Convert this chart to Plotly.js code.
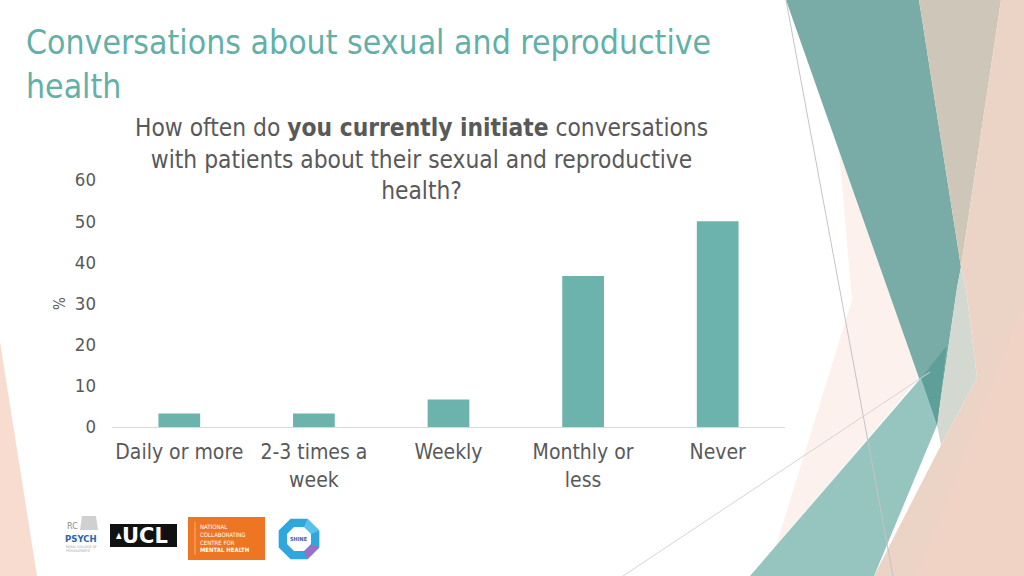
<!DOCTYPE html>
<html>
<head>
<meta charset="utf-8">
<script src="https://cdn.plot.ly/plotly-3.0.1.min.js"></script>
<style>
html,body{margin:0;padding:0;background:#fff;}
#chart{width:1024px;height:576px;}
</style>
</head>
<body>
<div id="chart"></div>
<script>
// ---- data ----
const categories = ['Daily or more', '2-3 times a<br>week', 'Weekly', 'Monthly or<br>less', 'Never'];
const percentages = [3.3, 3.3, 6.7, 36.7, 50];
const yTickValues = [0, 10, 20, 30, 40, 50, 60];
const yTickLabels = ['0', '10', '20', '30', '40', '50', '60'];
const slideTitle = 'Conversations about sexual and reproductive<br>health';
const chartTitle = 'How often do <b>you currently initiate</b> conversations<br>with patients about their sexual and reproductive<br>health?';
const yAxisTitle = '%';

// ---- layout helpers (pixel -> paper) ----
const FONT = 'DejaVu Sans Condensed, DejaVu Sans, sans-serif';
const L = 112, R = 785, T = 180, B = 427;
const px = x => (x - L) / (R - L);
const py = y => (B - y) / (B - T);
function poly(pts, fill, extra) {
  const d = pts.map((p, i) => (i ? 'L' : 'M') + px(p[0]).toFixed(5) + ',' + py(p[1]).toFixed(5)).join(' ') + ' Z';
  return Object.assign({type: 'path', xref: 'paper', yref: 'paper', path: d, fillcolor: fill, line: {width: 0}, layer: 'below'}, extra || {});
}
function seg(a, b, color, w) {
  return {type: 'line', xref: 'paper', yref: 'paper', x0: px(a[0]), y0: py(a[1]), x1: px(b[0]), y1: py(b[1]),
    line: {color: color, width: w || 1}, layer: 'below'};
}
function rect(x0, y0, x1, y1, fill) {
  return {type: 'rect', xref: 'paper', yref: 'paper', x0: px(x0), y0: py(y1), x1: px(x1), y1: py(y0),
    fillcolor: fill, line: {width: 0}, layer: 'above'};
}
function octagon(cx, cy, r) {
  const pts = [];
  for (let i = 0; i < 8; i++) {
    const a = Math.PI / 8 + i * Math.PI / 4;
    pts.push([cx + r * Math.cos(a), cy + r * Math.sin(a)]);
  }
  return pts;
}
function ann(x, y, text, size, color, opts) {
  return Object.assign({xref: 'paper', yref: 'paper', x: px(x), y: py(y), text: text, showarrow: false,
    font: {family: FONT, size: size, color: color}, xanchor: 'left', yanchor: 'middle'}, opts || {});
}

// ---- decorative background shapes ----
const shapes = [
  poly([[0, 342], [37, 576], [0, 576]], '#f8dccf'),
  poly([[839, 150], [919, 378], [776, 546], [852, 300]], '#fcf1ec'),
  poly([[786, 0], [919, 0], [961, 267], [957, 288], [937, 425], [919, 378]], '#79aca6'),
  poly([[919, 0], [1001, 0], [961, 267]], '#cdc6b9'),
  poly([[961, 267], [966, 288], [977, 378], [941, 445], [937, 425], [957, 288]], '#d3d9d0'),
  poly([[1001, 0], [1024, 0], [1024, 576], [874, 576], [941, 445], [977, 378], [966, 288], [961, 267]], '#ebd3c6'),
  poly([[1024, 305], [1024, 576], [917, 576]], '#f1d3c5'),
  poly([[750, 576], [921, 378], [947, 345], [937, 425], [874, 576]], '#96c4be'),
  poly([[921, 378], [947, 345], [937, 425]], '#5e9f99'),
  seg([786, 0], [893, 576], '#c4c4c4', 1),
  seg([623, 576], [930, 372], '#d4d4d4', 1),
  // logos
  rect(110, 524, 177, 547, '#111111'),
  rect(188, 517, 265, 560, '#ee7623'),
  Object.assign(seg([195, 522], [195, 555], '#f7b27f', 1), {layer: 'above'}),
  poly(octagon(299, 539, 22), '#2fa7dc', {layer: 'above'}),
  poly([[299 + 22 * Math.cos(Math.PI / 8), 539 + 22 * Math.sin(Math.PI / 8)],
        [299 + 22 * Math.cos(3 * Math.PI / 8), 539 + 22 * Math.sin(3 * Math.PI / 8)],
        [299 + 13 * Math.cos(3 * Math.PI / 8), 539 + 13 * Math.sin(3 * Math.PI / 8)],
        [299 + 13 * Math.cos(Math.PI / 8), 539 + 13 * Math.sin(Math.PI / 8)]], '#9b6fc7', {layer: 'above'}),
  poly([[299 + 22 * Math.cos(-3 * Math.PI / 8), 539 + 22 * Math.sin(-3 * Math.PI / 8)],
        [299 + 22 * Math.cos(-Math.PI / 8), 539 + 22 * Math.sin(-Math.PI / 8)],
        [299 + 13 * Math.cos(-Math.PI / 8), 539 + 13 * Math.sin(-Math.PI / 8)],
        [299 + 13 * Math.cos(-3 * Math.PI / 8), 539 + 13 * Math.sin(-3 * Math.PI / 8)]], '#58c2ea', {layer: 'above'}),
  poly(octagon(299, 539, 13), '#ffffff', {layer: 'above'}),
  poly([[82, 516], [96, 516], [98, 530], [80, 530]], '#d0d0d0', {layer: 'above'})
];

// ---- annotations ----
const annotations = [
  ann(24, 64, slideTitle, 33.5, '#63b0a8', {yanchor: 'middle', align: 'left'}),
  ann(421, 159, chartTitle, 24.3, '#595959', {xanchor: 'center', align: 'center'}),
  ann(65, 526, 'RC', 9, '#8a8a8a'),
  ann(63, 538, '<b>PSYCH</b>', 9.5, '#2a66ad'),
  ann(64, 547, 'ROYAL COLLEGE OF', 3.5, '#9a9a9a'),
  ann(64, 551, 'PSYCHIATRISTS', 3.5, '#9a9a9a'),
  ann(145, 536, '<b>UCL</b>', 21, '#ffffff', {xanchor: 'center', font: {family: 'DejaVu Sans, sans-serif', size: 21, color: '#ffffff'}}),
  ann(114, 535, '▲', 8, '#ffffff'),
  ann(198, 538, 'NATIONAL<br>COLLABORATING<br>CENTRE FOR<br><b>MENTAL HEALTH</b>', 6, '#ffffff', {align: 'left'}),
  ann(299, 539, '<b>SHINE</b>', 5.5, '#2a66ad', {xanchor: 'center'})
];

const trace = {
  type: 'bar',
  x: categories,
  y: percentages,
  marker: {color: '#6db3ad'},
  hoverinfo: 'x+y'
};

const layout = {
  width: 1024, height: 576,
  margin: {l: L, r: 1024 - R, t: T, b: 576 - B, pad: 0},
  paper_bgcolor: '#ffffff',
  plot_bgcolor: 'rgba(0,0,0,0)',
  showlegend: false,
  bargap: 0.69,
  font: {family: FONT, color: '#595959'},
  xaxis: {
    type: 'category',
    showgrid: false, zeroline: false,
    showline: true, linecolor: '#d9d9d9', linewidth: 1,
    ticks: '', tickfont: {family: FONT, size: 21, color: '#595959'},
    ticklabelstandoff: 6,
    fixedrange: true
  },
  yaxis: {
    range: [0, 60],
    tickvals: yTickValues, ticktext: yTickLabels,
    showgrid: false, zeroline: false, showline: false,
    ticks: '', tickfont: {family: FONT, size: 18.5, color: '#595959'},
    ticklabelstandoff: 15,
    title: {text: yAxisTitle, font: {family: FONT, size: 15, color: '#595959'}, standoff: 5},
    fixedrange: true
  },
  shapes: shapes,
  annotations: annotations
};

Plotly.newPlot('chart', [trace], layout, {displayModeBar: false, staticPlot: true});
</script>
</body>
</html>
